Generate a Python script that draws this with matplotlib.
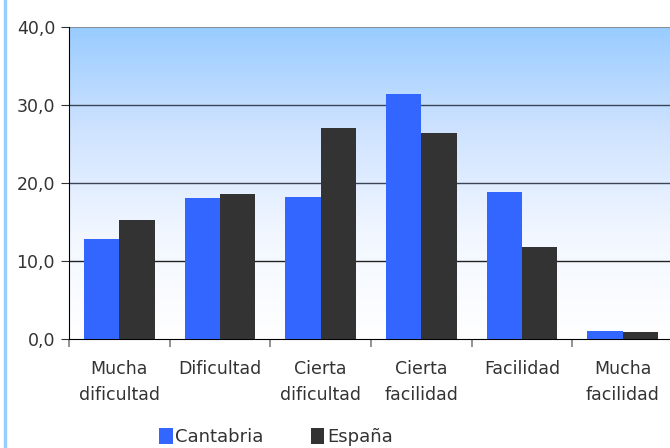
import matplotlib.pyplot as plt
import numpy as np
from matplotlib.lines import Line2D
from matplotlib.colors import LinearSegmentedColormap

# Data
categories = ['Mucha\ndificultad', 'Dificultad', 'Cierta\ndificultad',
              'Cierta\nfacilidad', 'Facilidad', 'Mucha\nfacilidad']
cantabria = [12.8, 18.1, 18.2, 31.4, 18.8, 1.0]
espana = [15.3, 18.6, 27.1, 26.4, 11.8, 0.9]
series_names = ['Cantabria', 'España']
yticks = [0, 10, 20, 30, 40]

blue = '#3366FF'
dark = '#333333'
W, H = 670, 448

fig = plt.figure(figsize=(W / 100, H / 100), dpi=100)
ax = fig.add_axes([69 / W, 1 - 339 / H, (673 - 69) / W, (339 - 27) / H])

# background gradient: light blue at top fading to white
grad = np.linspace(0, 1, 256).reshape(-1, 1)
cmap = LinearSegmentedColormap.from_list('bg', ['#FFFFFF', '#F2F7FF', '#CFE3FF', '#99CCFF'])
ax.imshow(grad, aspect='auto', cmap=cmap, origin='lower',
          extent=[0, len(categories), 0, 40], zorder=0)

x = np.arange(len(categories)) + 0.5
w = 0.35
ax.bar(x - w / 2, cantabria, w, color=blue, label=series_names[0], zorder=3)
ax.bar(x + w / 2, espana, w, color=dark, label=series_names[1], zorder=3)

ax.set_xlim(0, len(categories))
ax.set_ylim(0, 40)
ax.set_yticks(yticks)
ax.set_yticklabels([f'{v:.1f}'.replace('.', ',') for v in yticks])
for v in yticks[1:4]:
    ax.axhline(v, color='#222222' if v == 10 else '#3a4455', lw=1, zorder=1)
ax.axhline(40, color='#808080', lw=1.2, zorder=1)

ax.set_xticks(np.arange(len(categories) + 1))
ax.set_xticklabels([])
ax.set_xticks(x, minor=True)
ax.set_xticklabels(categories, minor=True)
ax.tick_params(axis='x', which='major', length=6, color='#808080', width=1.2)
ax.tick_params(axis='x', which='minor', length=0, pad=15, labelsize=12.5,
               labelcolor='#333333')
ax.tick_params(axis='y', length=6, color='#333333', labelsize=12.5,
               labelcolor='#333333', pad=4)
for lbl in ax.get_xticklabels(minor=True):
    lbl.set_linespacing(1.55)

for s in ['top', 'right']:
    ax.spines[s].set_visible(False)
ax.spines['left'].set_color('black')
ax.spines['bottom'].set_color('black')

# title, mostly cropped off at the top of the image
fig.text(320 / W, 1 + 4 / H, 'Cantabria y España (%)', ha='right', va='baseline',
         color=blue, fontsize=14, fontweight='bold', alpha=0.6)

# left border of the chart area
fig.add_artist(Line2D([5 / W, 5 / W], [0, 1], color='#99CCFF', lw=2.5))

fig.legend(loc='center', bbox_to_anchor=(276 / W, 1 - 437 / H), ncol=2,
           frameon=False, fontsize=13, handlelength=0.75, handleheight=0.95,
           handletextpad=0.15, columnspacing=2.6, labelcolor='#333333')

fig.savefig('out.png', dpi=100)
